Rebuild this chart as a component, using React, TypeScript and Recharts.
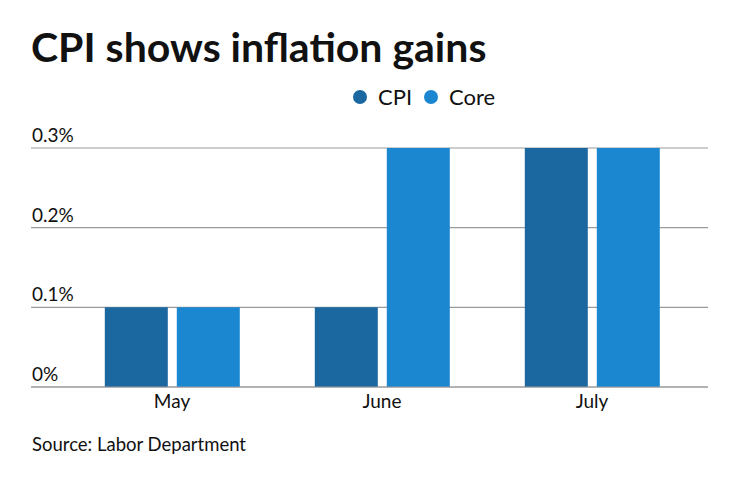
import { BarChart, Bar, XAxis, YAxis, CartesianGrid } from 'recharts';

// CPI monthly change, percent
const months = ['May', 'June', 'July'];
const cpiValues = [0.1, 0.1, 0.3];
const coreValues = [0.1, 0.3, 0.3];
const yTicks = [0, 0.1, 0.2, 0.3];

const colors = {
  cpi: '#1b67a0',
  core: '#1b87d1',
  grid: '#9a9a9a',
  text: '#111',
};

const font = 'Lato, "Open Sans", sans-serif';

const chartData = months.map((month, i) => ({
  month,
  cpi: cpiValues[i],
  core: coreValues[i],
}));

const formatPct = (v: number) => `${Math.round(v * 10) / 10}%`;

const YTick = (props: any) => {
  const { y, payload } = props;
  return (
    <text x={32} y={y - 6} fontSize={19} fill={colors.text} fontFamily={font} textAnchor="start">
      {formatPct(payload.value)}
    </text>
  );
};

const LegendItem = ({ color, label }: { color: string; label: string }) => (
  <div style={{ display: 'flex', alignItems: 'center', marginRight: 12 }}>
    <span
      style={{
        width: 14,
        height: 14,
        borderRadius: '50%',
        background: color,
        display: 'inline-block',
        marginRight: 11,
      }}
    />
    <span style={{ fontSize: 22, color: colors.text }}>{label}</span>
  </div>
);

export default function App() {
  return (
    <div
      style={{
        position: 'absolute',
        top: 0,
        left: 0,
        width: 740,
        height: 482,
        background: '#fff',
        fontFamily: font,
      }}
    >
      <div
        style={{
          position: 'absolute',
          left: 31,
          top: 22,
          fontSize: 41,
          fontWeight: 700,
          color: '#111',
          whiteSpace: 'nowrap',
        }}
      >
        CPI shows inflation gains
      </div>
      <div style={{ position: 'absolute', left: 353, top: 83, display: 'flex' }}>
        <LegendItem color={colors.cpi} label="CPI" />
        <LegendItem color={colors.core} label="Core" />
      </div>
      <BarChart
        width={740}
        height={482}
        data={chartData}
        margin={{ top: 148, right: 32, bottom: 55, left: 0 }}
        barCategoryGap="18%"
        barGap={9}
      >
        <CartesianGrid vertical={false} stroke={colors.grid} strokeWidth={1.2} />
        <YAxis
          width={31}
          domain={[0, 0.3]}
          ticks={yTicks}
          axisLine={false}
          tickLine={false}
          tick={<YTick />}
        />
        <XAxis
          dataKey="month"
          height={40}
          padding={{ left: 36, right: 11 }}
          axisLine={{ stroke: colors.grid, strokeWidth: 1.2 }}
          tickLine={false}
          tickSize={0}
          tickMargin={8}
          tick={{ fontSize: 19, fill: colors.text, fontFamily: font }}
        />
        <Bar dataKey="cpi" name="CPI" fill={colors.cpi} isAnimationActive={false} />
        <Bar dataKey="core" name="Core" fill={colors.core} isAnimationActive={false} />
      </BarChart>
      <div
        style={{
          position: 'absolute',
          left: 32,
          top: 433,
          fontSize: 18.5,
          color: colors.text,
          whiteSpace: 'nowrap',
        }}
      >
        Source: Labor Department
      </div>
    </div>
  );
}
